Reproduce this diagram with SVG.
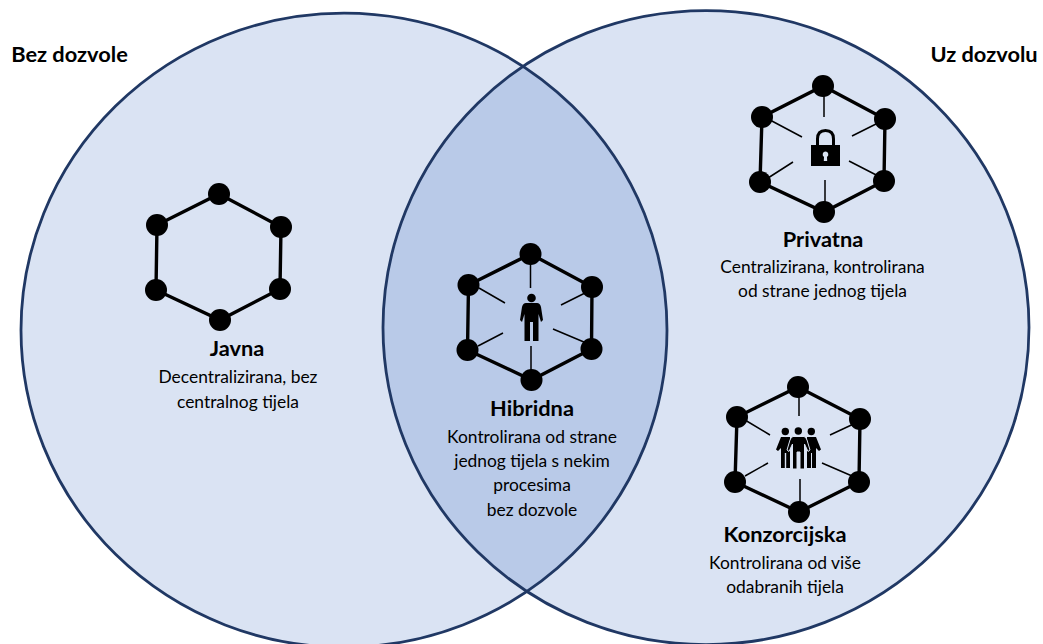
<svg xmlns="http://www.w3.org/2000/svg" width="1043" height="644" viewBox="0 0 1043 644">
<style>
text{font-family:Lato,"Open Sans","Liberation Sans",sans-serif;fill:#000;text-anchor:middle}
.t{font-size:21.800px;font-weight:700}
.d{font-size:17.400px}
.c{fill:#dae3f3;stroke:none}
.o{fill:none;stroke:#203864;stroke-width:2.800}
.h{fill:none;stroke:#000;stroke-width:3.400}
.s{stroke:#000;stroke-width:1.500;fill:none}
.n{fill:#000}
</style>
<defs>
<clipPath id="lc"><ellipse cx="344" cy="330.200" rx="323" ry="317"/></clipPath>
</defs>
<g id="venn">
<ellipse class="c" cx="344" cy="330.200" rx="323" ry="317"/>
<ellipse class="c" cx="706" cy="327.600" rx="323" ry="317"/>
<ellipse cx="706" cy="327.600" rx="323" ry="317" fill="#b9cae8" clip-path="url(#lc)"/>
<ellipse class="o" cx="344" cy="330.200" rx="323" ry="317"/>
<ellipse class="o" cx="706" cy="327.600" rx="323" ry="317"/>
</g>
<g id="connectors">
<path class="h" d="M219 194L281 227L280 289L220 320L156 290L157 225Z"/>
<path class="h" d="M530.500 254L592 287L591.500 349L531.500 380L467.500 350L468.500 285Z"/>
<path class="h" d="M823 86L885 119L884 181L824 212L760 182L762 117Z"/>
<path class="h" d="M798 387L860 419L859 482L799 512L735 482L737 417Z"/>
<path class="s" d="M530.500 254V288M479 288L505 303M591 290L561 305M478 346L503 333M591 345L553 329M531 346V380"/>
<path class="s" d="M824 86V117M770 120L802 137M884 120L852 136M768 178L793 162M884 179L849 161M825 180V212"/>
<path class="s" d="M799 387V416M745 420L770 435M860 421L830 435M745 476L768 463M859 479L822 463M800 479V512"/>
</g>
<g id="javna">
<circle class="n" cx="219" cy="194" r="11"/><circle class="n" cx="281" cy="227" r="11"/><circle class="n" cx="280" cy="289" r="11"/><circle class="n" cx="220" cy="320" r="11"/><circle class="n" cx="156" cy="290" r="11"/><circle class="n" cx="157" cy="225" r="11"/>
<text class="t" x="237" y="356">Javna</text>
<text class="d" x="238" y="383">Decentralizirana, bez</text>
<text class="d" x="238" y="408">centralnog tijela</text>
</g>
<g id="hibridna">
<circle class="n" cx="530.500" cy="254" r="11"/><circle class="n" cx="592" cy="287" r="11"/><circle class="n" cx="591.500" cy="349" r="11"/><circle class="n" cx="531.500" cy="380" r="11"/><circle class="n" cx="467.500" cy="350" r="11"/><circle class="n" cx="468.500" cy="285" r="11"/>
<circle class="n" cx="531.500" cy="298" r="4.300"/>
<path class="n" d="M526 303H537Q540 303 541 307L543 320L541 322L538.500 314V341H533V322H530V341H524.500V314L522 322L520 320L522 307Q523 303 526 303Z"/>
<text class="t" x="532" y="416">Hibridna</text>
<text class="d" x="532" y="443">Kontrolirana od strane</text>
<text class="d" x="532" y="467">jednog tijela s nekim</text>
<text class="d" x="532" y="491">procesima</text>
<text class="d" x="532" y="515.500">bez dozvole</text>
</g>
<g id="privatna">
<circle class="n" cx="823" cy="86" r="11"/><circle class="n" cx="885" cy="119" r="11"/><circle class="n" cx="884" cy="181" r="11"/><circle class="n" cx="824" cy="212" r="11"/><circle class="n" cx="760" cy="182" r="11"/><circle class="n" cx="762" cy="117" r="11"/>
<path class="n" fill-rule="evenodd" d="M811 145H816V139Q816 129 825.500 129Q835 129 835 139V145H840V166H811ZM819 145H832V139Q832 132 825.500 132Q819 132 819 139ZM825.500 151.500A3 3 0 0 0 824 157L823.800 161H827.200L827 157A3 3 0 0 0 825.500 151.500Z"/>
<text class="t" x="823" y="247">Privatna</text>
<text class="d" x="822.500" y="273">Centralizirana, kontrolirana</text>
<text class="d" x="822.500" y="297">od strane jednog tijela</text>
</g>
<g id="konzorcijska">
<circle class="n" cx="798" cy="387" r="11"/><circle class="n" cx="860" cy="419" r="11"/><circle class="n" cx="859" cy="482" r="11"/><circle class="n" cx="799" cy="512" r="11"/><circle class="n" cx="735" cy="482" r="11"/><circle class="n" cx="737" cy="417" r="11"/>
<g id="people">
<circle class="n" cx="785.300" cy="431.500" r="3.700"/><circle class="n" cx="798.300" cy="431" r="3.700"/><circle class="n" cx="811.300" cy="431.500" r="3.700"/>
<path class="n" d="M781 437H790V468H786.200V453H784.800V468H781V448L778 451L776 449.500Z"/>
<path class="n" d="M807 437H816L821 449.500L819 451L816 448V468H812V453H811V468H807Z"/>
<path class="n" stroke="#dae3f3" stroke-width="1" d="M793 436.500H804Q806 437 807 440L810 450L808 451.500L804.500 444V469H800V452H797V469H792.500V444L789 451.500L787 450L790 440Q791 437 793 436.500Z"/>
</g>
<text class="t" x="785" y="542">Konzorcijska</text>
<text class="d" x="785" y="569">Kontrolirana od više</text>
<text class="d" x="785" y="593">odabranih tijela</text>
</g>
<g id="labels">
<text class="t" x="69.500" y="62">Bez dozvole</text>
<text class="t" x="984" y="62">Uz dozvolu</text>
</g>
</svg>
